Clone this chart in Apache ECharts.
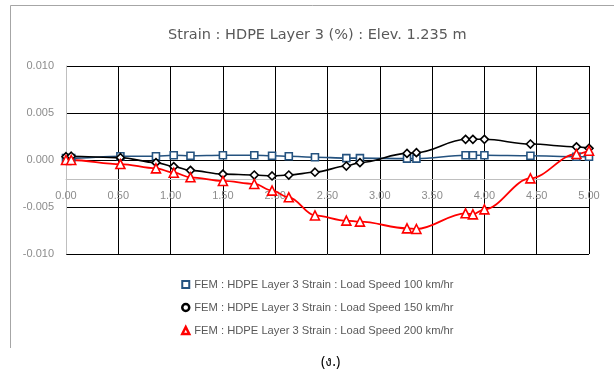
<!DOCTYPE html>
<html>
<head>
<meta charset="utf-8">
<script src="https://cdn.jsdelivr.net/npm/echarts@6/dist/echarts.min.js"></script>
<style>
  html, body { margin: 0; padding: 0; background: #fff; }
  #chart { width: 614px; height: 378px; }
</style>
</head>
<body>
<div id="chart"></div>
<script>
// Distance along the layer (m) at which strain was sampled
const positions = [0.00, 0.05, 0.52, 0.86, 1.03, 1.19, 1.50, 1.80, 1.97, 2.13, 2.38,
                   2.68, 2.81, 3.26, 3.35, 3.82, 3.89, 4.00, 4.44, 4.88, 5.00];

// Strain (%) for each load speed
const strain100 = [0.0002, 0.0002, 0.0004, 0.0004, 0.0005, 0.00045, 0.0005, 0.0005, 0.00045, 0.0004, 0.0003,
                   0.0002, 0.0002, 0.00015, 0.00015, 0.0005, 0.0005, 0.0005, 0.00045, 0.00035, 0.00035];
const strain150 = [0.00035, 0.0004, 0.00025, -0.00028, -0.0007, -0.0011, -0.0015, -0.0016, -0.0017, -0.0016, -0.0013,
                   -0.00064, -0.00028, 0.0007, 0.00078, 0.0022, 0.0022, 0.0022, 0.0017, 0.0014, 0.00124];
const strain200 = [0.0000, 0.0000, -0.00043, -0.00089, -0.00135, -0.00184, -0.00223, -0.00255, -0.00326, -0.00397, -0.0059,
                   -0.00645, -0.00656, -0.00727, -0.00734, -0.00567, -0.00578, -0.00525, -0.00195, 0.00064, 0.00099];

const seriesNames = [
  'FEM : HDPE Layer 3 Strain : Load Speed 100 km/hr',
  'FEM : HDPE Layer 3 Strain : Load Speed 150 km/hr',
  'FEM : HDPE Layer 3 Strain : Load Speed 200 km/hr'
];
const titleText = 'Strain : HDPE Layer 3 (%) : Elev. 1.235 m';
const captionText = '(ง.)';

const xMin = 0, xMax = 5, xStep = 0.5;
const yMin = -0.010, yMax = 0.010, yStep = 0.005;
const xAxisCrossesAt = -0.002;

const BLUE = '#24527F', BLACK = '#000000', RED = '#FF0000';
const labelFont = '"Liberation Sans", Arial, sans-serif';

function pairs(values) {
  return positions.map((x, i) => [x, values[i]]);
}

const chart = echarts.init(document.getElementById('chart'), null, { renderer: 'canvas' });

function buildSeries(name, values, color, symbol, size, lineWidth) {
  return {
    name: name,
    type: 'line',
    data: pairs(values),
    smooth: 0.35,
    smoothMonotone: 'x',
    symbol: symbol,
    symbolSize: size,
    showAllSymbol: true,
    itemStyle: { color: '#ffffff', borderColor: color, borderWidth: 1.6 },
    lineStyle: { color: color, width: lineWidth },
    emphasis: { disabled: true },
    animation: false
  };
}

const option = {
  backgroundColor: '#ffffff',
  animation: false,
  title: {
    text: titleText,
    left: 163,
    top: 23,
    textStyle: { fontFamily: '"DejaVu Sans", sans-serif', fontSize: 14.5, fontWeight: 'normal', color: '#595959' }
  },
  grid: { left: 66, right: 25, top: 66, bottom: 124, containLabel: false },
  xAxis: {
    type: 'value',
    min: xMin, max: xMax, interval: xStep,
    position: 'bottom',
    axisLine: { show: true, onZero: false, lineStyle: { color: '#BFBFBF', width: 1 } },
    axisTick: { show: false },
    axisLabel: {
      color: '#8C8C8C', fontFamily: labelFont, fontSize: 11, margin: 12,
      formatter: v => v.toFixed(2)
    },
    splitLine: { show: true, lineStyle: { color: '#000000', width: 1 } }
  },
  yAxis: {
    type: 'value',
    min: yMin, max: yMax, interval: yStep,
    axisLine: { show: true, lineStyle: { color: '#BFBFBF', width: 1 } },
    axisTick: { show: false },
    axisLabel: {
      color: '#8C8C8C', fontFamily: labelFont, fontSize: 11, margin: 12,
      formatter: v => v.toFixed(3)
    },
    splitLine: { show: true, lineStyle: { color: '#000000', width: 1 } }
  },
  legend: {
    orient: 'vertical',
    left: 176,
    top: 274,
    itemGap: 12,
    itemWidth: 7,
    itemHeight: 7,
    textStyle: { color: '#595959', fontFamily: labelFont, fontSize: 11.2 },
    data: [
      { name: seriesNames[0], icon: 'rect', itemStyle: { color: '#ffffff', borderColor: BLUE, borderWidth: 2 } },
      { name: seriesNames[1], icon: 'circle', itemStyle: { color: '#ffffff', borderColor: BLACK, borderWidth: 2.5 } },
      { name: seriesNames[2], icon: 'triangle', itemStyle: { color: '#ffffff', borderColor: RED, borderWidth: 2.5 } }
    ]
  },
  graphic: [
    {
      type: 'polyline',
      shape: { points: [[10.5, 348], [10.5, 5.5], [614, 5.5]] },
      style: { stroke: '#A6A6A6', lineWidth: 1, fill: null },
      silent: true
    },
    {
      type: 'text',
      left: 321,
      top: 355,
      style: { text: captionText, fill: '#000000', font: '14px "Noto Sans", "DejaVu Sans", sans-serif' }
    }
  ],
  series: [
    buildSeries(seriesNames[0], strain100, BLUE, 'rect', 7, 1.6),
    buildSeries(seriesNames[1], strain150, BLACK, 'diamond', 8, 1.6),
    buildSeries(seriesNames[2], strain200, RED, 'triangle', 9, 1.8)
  ]
};

chart.setOption(option);

// Place the horizontal axis where it crosses the value axis (Excel-style crossing)
const rect = chart.getModel().getComponent('grid').coordinateSystem.getRect();
const crossPx = chart.convertToPixel({ yAxisIndex: 0 }, xAxisCrossesAt);
chart.setOption({ xAxis: { offset: -((rect.y + rect.height) - crossPx) } });
</script>
</body>
</html>
